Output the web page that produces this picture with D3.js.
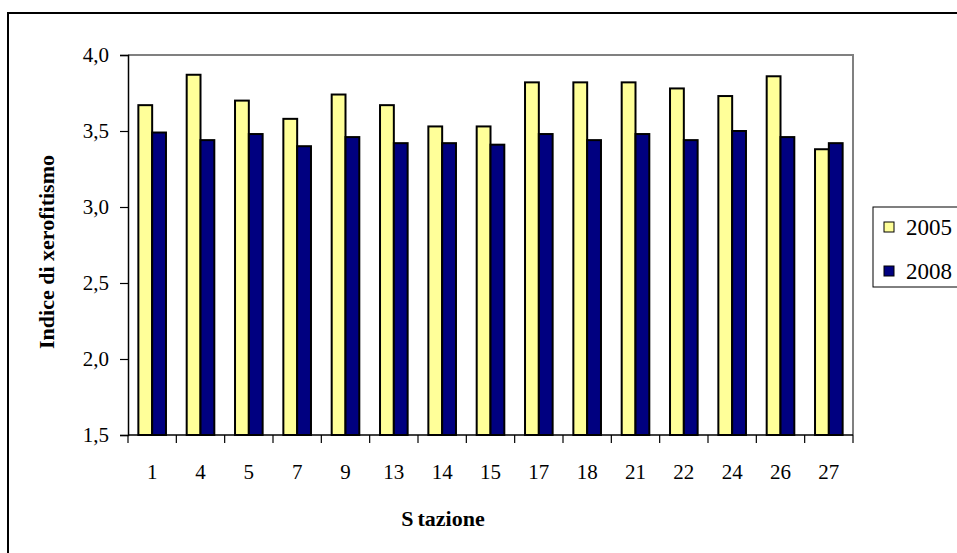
<!DOCTYPE html>
<html>
<head>
<meta charset="utf-8">
<script src="https://cdn.jsdelivr.net/npm/d3@7"></script>
<style>
  html, body { margin: 0; padding: 0; background: #fff; }
  svg { display: block; }
  text { font-family: "Liberation Serif", "Times New Roman", serif; fill: #000; }
</style>
</head>
<body>
<svg id="chart" width="957" height="553"></svg>
<script>
// Stations along the x axis
const stations = ["1", "4", "5", "7", "9", "13", "14", "15", "17", "18", "21", "22", "24", "26", "27"];
// Xerophytism index per station
const values2005 = [3.67, 3.87, 3.70, 3.58, 3.74, 3.67, 3.53, 3.53, 3.82, 3.82, 3.82, 3.78, 3.73, 3.86, 3.38];
const values2008 = [3.49, 3.44, 3.48, 3.40, 3.46, 3.42, 3.42, 3.41, 3.48, 3.44, 3.48, 3.44, 3.50, 3.46, 3.42];
const seriesNames = ["2005", "2008"];
const seriesColors = ["#FFFF99", "#000080"];
const yTicks = [1.5, 2.0, 2.5, 3.0, 3.5, 4.0];

const svg = d3.select("#chart");
const plot = { left: 128, top: 55, right: 853, bottom: 435 };
const tickFont = "21px";

// Outer chart frame (runs off the right and bottom edges)
svg.append("rect")
  .attr("x", 8).attr("y", 13)
  .attr("width", 1000).attr("height", 600)
  .attr("fill", "#fff").attr("stroke", "#000").attr("stroke-width", 2);

const x = d3.scaleBand().domain(stations).range([plot.left, plot.right]).paddingInner(0).paddingOuter(0);
const y = d3.scaleLinear().domain([1.5, 4.0]).range([plot.bottom, plot.top]);

// two bars per station, 1.5 bar widths of gap between groups
const barW = x.bandwidth() / 3.5;
const offset = barW * 0.75;

// Plot area frame: grey top and right edges
svg.append("path")
  .attr("d", `M${plot.left},${plot.top}H${plot.right}V${plot.bottom}`)
  .attr("fill", "none").attr("stroke", "#808080").attr("stroke-width", 2);

// Bars
const series = [values2005, values2008];
series.forEach((vals, si) => {
  svg.append("g").selectAll("rect")
    .data(stations.map((s, i) => ({ s, v: vals[i] })))
    .join("rect")
    .attr("x", d => x(d.s) + offset + si * barW)
    .attr("y", d => y(d.v))
    .attr("width", barW)
    .attr("height", d => y(1.5) - y(d.v))
    .attr("fill", seriesColors[si])
    .attr("stroke", "#000")
    .attr("stroke-width", 2);
});

// Y axis
const yAxis = svg.append("g")
  .attr("transform", `translate(${plot.left},0)`)
  .call(d3.axisLeft(y).tickValues(yTicks).tickSize(8).tickPadding(11)
    .tickFormat(d => d3.format(".1f")(d).replace(".", ",")));
yAxis.select(".domain").attr("stroke", "#000").attr("stroke-width", 1.5);
yAxis.selectAll(".tick line").attr("stroke", "#000").attr("stroke-width", 1.2);
yAxis.selectAll("text").style("font-size", tickFont).style("font-family", "Liberation Serif");

// X axis with ticks on category boundaries
const xAxisG = svg.append("g").attr("transform", `translate(0,${plot.bottom})`);
xAxisG.append("line")
  .attr("x1", plot.left).attr("x2", plot.right)
  .attr("stroke", "#000").attr("stroke-width", 1.5);
const boundaries = stations.map(s => x(s)).concat([x(stations[stations.length - 1]) + x.bandwidth()]);
xAxisG.selectAll("line.tick")
  .data(boundaries).join("line").attr("class", "tick")
  .attr("x1", d => d).attr("x2", d => d)
  .attr("y1", 0).attr("y2", 8)
  .attr("stroke", "#000").attr("stroke-width", 1.2);
xAxisG.selectAll("text")
  .data(stations).join("text")
  .attr("x", d => x(d) + x.bandwidth() / 2)
  .attr("y", 44)
  .attr("text-anchor", "middle")
  .style("font-size", tickFont)
  .text(d => d);

// Axis titles
const xTitle = svg.append("text")
  .attr("x", 443).attr("y", 526)
  .attr("text-anchor", "middle")
  .style("font-size", "22px").style("font-weight", "bold");
xTitle.append("tspan").text("S");
xTitle.append("tspan").attr("dx", 4).text("tazione");
svg.append("text")
  .attr("transform", `translate(54,${(plot.top + plot.bottom) / 2 + 7}) rotate(-90)`)
  .attr("text-anchor", "middle")
  .style("font-size", "22px").style("font-weight", "bold")
  .text("Indice di xerofitismo");

// Legend
const legend = svg.append("g");
legend.append("rect")
  .attr("x", 873).attr("y", 207).attr("width", 120).attr("height", 80)
  .attr("fill", "#fff").attr("stroke", "#000").attr("stroke-width", 1);
seriesNames.forEach((name, i) => {
  const cy = 227 + i * 44;
  legend.append("rect")
    .attr("x", 884).attr("y", cy - 5).attr("width", 10).attr("height", 10)
    .attr("fill", seriesColors[i]).attr("stroke", "#000").attr("stroke-width", 1);
  legend.append("text")
    .attr("x", 906).attr("y", cy + 8)
    .style("font-size", "23px")
    .text(name);
});
</script>
</body>
</html>
